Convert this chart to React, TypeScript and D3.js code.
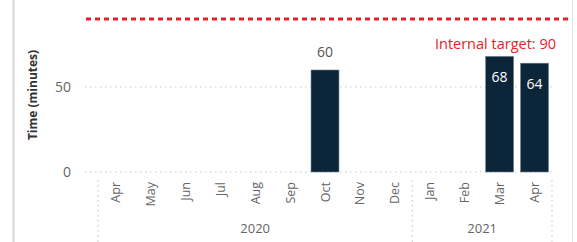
import React, { useRef, useEffect } from "react"
import * as d3 from "d3"

// months shown on the axis, Apr 2020 .. Apr 2021
const months = ["Apr", "May", "Jun", "Jul", "Aug", "Sep", "Oct", "Nov", "Dec", "Jan", "Feb", "Mar", "Apr"]
const monthYears = [2020, 2020, 2020, 2020, 2020, 2020, 2020, 2020, 2020, 2021, 2021, 2021, 2021]
const times: (number | null)[] = [null, null, null, null, null, null, 60, null, null, null, null, 68, 64]
const years = [2020, 2021]
const yTicks = [0, 50]
const target = 90

const W = 577
const H = 242

const App = () => {
    const ref = useRef<SVGSVGElement>(null)

    useEffect(() => {
        const svg = d3.select(ref.current)
        svg.selectAll("*").remove()

        const font = "'Segoe UI', 'Open Sans', 'DejaVu Sans', sans-serif"
        const idx = months.map((_, i) => i)

        const x = d3.scaleBand<number>().domain(idx).range([98, 552]).paddingInner(0.2).paddingOuter(0.1)
        const y = d3.scaleLinear().domain([0, target]).range([172, 19])

        // card borders
        svg.append("line").attr("x1", 13.5).attr("x2", 13.5).attr("y1", 0).attr("y2", H).attr("stroke", "#d6d6d6").attr("stroke-width", 2)
        svg.append("line").attr("x1", 572.5).attr("x2", 572.5).attr("y1", 0).attr("y2", H).attr("stroke", "#e2e2e2").attr("stroke-width", 1)

        // gridlines
        svg.selectAll(".grid").data(yTicks).enter().append("line")
            .attr("x1", 85).attr("x2", 552)
            .attr("y1", d => y(d)).attr("y2", d => y(d))
            .attr("stroke", "#c8c8c8").attr("stroke-width", 1.2).attr("stroke-dasharray", "1.5,3.5")

        svg.selectAll(".ytick").data(yTicks).enter().append("text")
            .attr("x", 71).attr("y", d => y(d)).attr("dy", "0.35em")
            .attr("text-anchor", "end").attr("font-family", font).attr("font-size", 14).attr("fill", "#666")
            .text(d => d)

        svg.append("text")
            .attr("transform", "translate(37,95) rotate(-90)")
            .attr("text-anchor", "middle").attr("font-family", font).attr("font-size", 12).attr("font-weight", "bold").attr("fill", "#333")
            .text("Time (minutes)")

        // target line
        svg.append("line")
            .attr("x1", 86).attr("x2", 568).attr("y1", y(target)).attr("y2", y(target))
            .attr("stroke", "#e8202a").attr("stroke-width", 3).attr("stroke-dasharray", "5,4")
        svg.append("text")
            .attr("x", 556).attr("y", 49)
            .attr("text-anchor", "end").attr("font-family", font).attr("font-size", 14.5).attr("fill", "#e8202a")
            .text("Internal target: " + target)

        // bars
        const rows = idx.filter(i => times[i] != null)
        const inside = (i: number) => times[i]! > 62
        svg.selectAll(".bar").data(rows).enter().append("rect")
            .attr("x", i => x(i)!)
            .attr("width", x.bandwidth())
            .attr("y", i => y(times[i]!))
            .attr("height", i => y(0) - y(times[i]!))
            .attr("fill", "#0d2538").attr("stroke", "#6b7f8f").attr("stroke-width", 0.6)

        svg.selectAll(".lbl").data(rows).enter().append("text")
            .attr("x", i => x(i)! + x.bandwidth() / 2)
            .attr("y", i => (inside(i) ? y(times[i]!) + 26 : y(times[i]!) - 13))
            .attr("text-anchor", "middle").attr("font-family", font).attr("font-size", 14)
            .attr("fill", i => (inside(i) ? "#fff" : "#555"))
            .text(i => times[i]!)

        // month labels
        svg.selectAll(".mon").data(idx).enter().append("text")
            .attr("transform", i => `translate(${x(i)! + x.bandwidth() / 2 + 4.5},182) rotate(-90)`)
            .attr("text-anchor", "end").attr("font-family", font).attr("font-size", 12.5).attr("fill", "#666")
            .text(i => months[i])

        // year separators and labels
        const yearEdges = years.map(yr => {
            const ii = idx.filter(i => monthYears[i] === yr)
            return { yr, first: ii[0], last: ii[ii.length - 1] }
        })
        const step = x.step()
        const seps = [x(0)! - step * 0.1, ...yearEdges.map(e => x(e.last)! + x.bandwidth() + step * 0.1)]
        svg.selectAll(".sep").data(seps).enter().append("line")
            .attr("x1", d => d).attr("x2", d => d).attr("y1", 180).attr("y2", H)
            .attr("stroke", "#c8c8c8").attr("stroke-width", 1.2).attr("stroke-dasharray", "1.5,3.5")

        svg.selectAll(".yr").data(yearEdges).enter().append("text")
            .attr("x", e => (x(e.first)! + x(e.last)! + x.bandwidth()) / 2)
            .attr("y", 233)
            .attr("text-anchor", "middle").attr("font-family", font).attr("font-size", 13).attr("fill", "#666")
            .text(e => e.yr)
    }, [])

    return (
        <svg ref={ref} width={W} height={H} style={{ position: "absolute", left: 0, top: 0, background: "#fff" }} />
    )
}

export default App
